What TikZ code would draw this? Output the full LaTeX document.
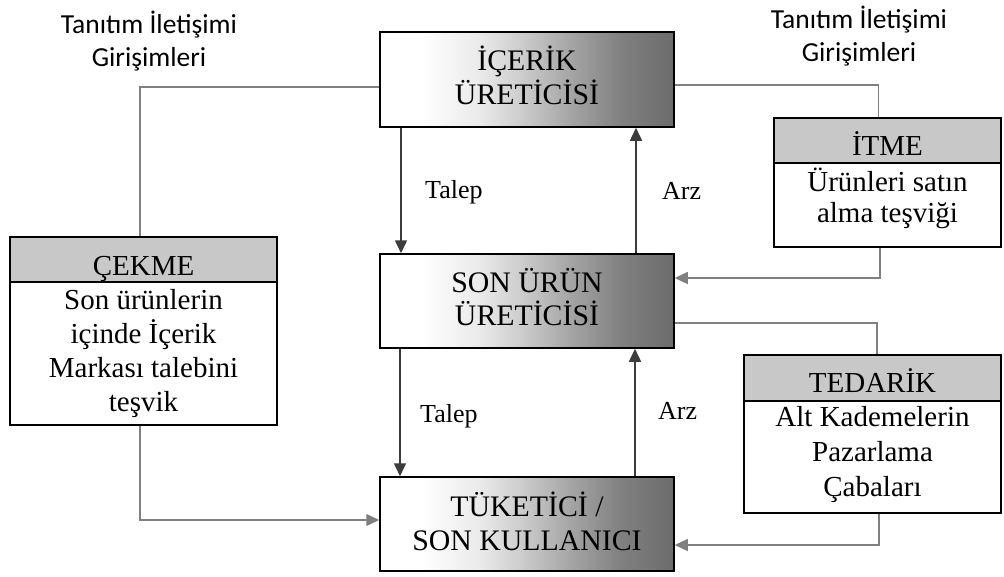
\documentclass[tikz,border=0pt]{standalone}
\usepackage{fontspec}
\setmainfont{Liberation Serif}
\newfontfamily\carl{Carlito}
\usetikzlibrary{arrows.meta,calc}
\definecolor{hdrgray}{HTML}{C8C8C8}
\definecolor{linkgray}{HTML}{808080}
\definecolor{vertgray}{HTML}{3C3C3C}
\definecolor{ga}{HTML}{EAEAEA}
\definecolor{gb}{HTML}{C8C8C8}
\definecolor{gc}{HTML}{A2A2A2}
\definecolor{gd}{HTML}{808080}
\definecolor{ge}{HTML}{6C6C6C}
\pgfdeclarehorizontalshading{boxgrad}{100bp}{color(0bp)=(white); color(25bp)=(white); color(32bp)=(white); color(42bp)=(ga); color(50bp)=(gb); color(58bp)=(gc); color(66bp)=(gd); color(75bp)=(ge); color(100bp)=(ge)}
\tikzset{
 mainbox/.style={draw=black, line width=1.5pt, shading=boxgrad, minimum width=294pt, inner sep=0pt},
 hdrbox/.style={draw=black, line width=1.3pt, fill=hdrgray, inner sep=0pt},
 bodybox/.style={draw=black, line width=1.3pt, fill=white, inner sep=0pt},
 boxtxt/.style={font=\fontsize{29}{33}\selectfont, align=center, inner sep=0pt},
 maintxt/.style={font=\fontsize{29.8}{33.5}\selectfont, align=center, inner sep=0pt},
 hdrtxt/.style={font=\fontsize{29}{33}\selectfont, inner sep=0pt, anchor=base},
 lbl/.style={font=\fontsize{26}{30}\selectfont, inner sep=0pt, anchor=base west},
 toptxt/.style={font=\carl\fontsize{27.5}{33}\selectfont, align=center, inner sep=0pt},
 link/.style={draw=linkgray, line width=1.3pt},
 linkarrow/.style={link, -{Triangle[length=13pt,width=12pt]}},
 vert/.style={draw=vertgray, line width=1.5pt, -{Triangle[length=13pt,width=12pt]}},
}
\begin{document}
\begin{tikzpicture}[x=1pt,y=-1pt]
\useasboundingbox (0,0) rectangle (1004,576);
% main boxes
\node[mainbox, minimum height=95pt] (top) at (527,79.5) {};
\node[mainbox, minimum height=94pt] (mid) at (527,301) {};
\node[mainbox, minimum height=94pt] (bot) at (527,524) {};
\node[maintxt] (topt) at ($(top.center)+(0,-4)$) {İÇERİK\\ÜRETİCİSİ};
\node[maintxt] (midt) at ($(mid.center)+(0,-4)$) {SON ÜRÜN\\ÜRETİCİSİ};
\node[maintxt] (bott) at ($(bot.center)+(0,-2.5)$) {TÜKETİCİ /\\SON KULLANICI};
% side boxes
\node[hdrbox, minimum width=267pt, minimum height=45pt] (cekH) at (143.5,259.5) {};
\node[bodybox, minimum width=267pt, minimum height=143pt] (cekB) at (143.5,353.5) {};
\node[hdrbox, minimum width=227pt, minimum height=45pt] (itmH) at (887.5,140.5) {};
\node[bodybox, minimum width=227pt, minimum height=84pt] (itmB) at (887.5,205) {};
\node[hdrbox, minimum width=257pt, minimum height=46pt] (tedH) at (872.5,378) {};
\node[bodybox, minimum width=257pt, minimum height=112pt] (tedB) at (872.5,457) {};
\node[hdrtxt] (cekHt) at ($(cekH.center)+(0,15.5)$) {ÇEKME};
\node[hdrtxt] (itmHt) at ($(itmH.center)+(0,14.5)$) {İTME};
\node[hdrtxt] (tedHt) at ($(tedH.center)+(0,14)$) {TEDARİK};
\node[boxtxt, font=\fontsize{29}{34}\selectfont] (cekBt) at (cekB.center) {Son ürünlerin\\içinde İçerik\\Markası talebini\\teşvik};
\node[boxtxt, font=\fontsize{29}{31}\selectfont] (itmBt) at ($(itmB.center)+(0,-7)$) {Ürünleri satın\\alma teşviği};
\node[boxtxt, font=\fontsize{29}{35}\selectfont] (tedBt) at ($(tedB.center)+(0,-2)$) {Alt Kademelerin\\Pazarlama\\Çabaları};
% top labels
\node[toptxt] (tl) at (149,41) {Tanıtım İletişimi\\Girişimleri};
\node[toptxt] (tr) at (859,36.5) {Tanıtım İletişimi\\Girişimleri};
% connectors
\coordinate (pl) at ($(top.west)+(0,7.5)$);
\coordinate (pr) at ($(top.east)+(0,5.5)$);
\draw[link] ($(cekH.north)+(-3.5,0)$) |- (pl);
\draw[link] (pr) -| ($(itmH.north)+(-9,0)$);
\coordinate (pm) at ($(mid.east)+(0,-23)$);
\draw[linkarrow] ($(itmB.south)+(-7.5,0)$) |- (pm);
\coordinate (pt) at ($(mid.east)+(0,22)$);
\draw[link] (pt) -| ($(tedH.north)+(4.5,0)$);
\coordinate (pb) at ($(bot.east)+(0,21)$);
\draw[linkarrow] ($(tedB.south)+(6.5,0)$) |- (pb);
\coordinate (pc) at ($(bot.west)+(0,-4)$);
\draw[linkarrow] ($(cekB.south)+(-3.5,0)$) |- (pc);
% vertical arrows
\draw[vert] ($(top.south)+(-126,0)$) -- ($(mid.north)+(-126,0)$);
\draw[vert] ($(mid.north)+(109,0)$) -- ($(top.south)+(109,0)$);
\draw[vert] ($(mid.south)+(-127,0)$) -- ($(bot.north)+(-127,0)$);
\draw[vert] ($(bot.north)+(108,0)$) -- ($(mid.south)+(108,0)$);
\node[lbl] (tal1) at (425,198) {Talep};
\node[lbl] (arz1) at (662,199) {Arz};
\node[lbl] (tal2) at (420,422) {Talep};
\node[lbl] (arz2) at (658,419) {Arz};
\end{tikzpicture}
\end{document}
